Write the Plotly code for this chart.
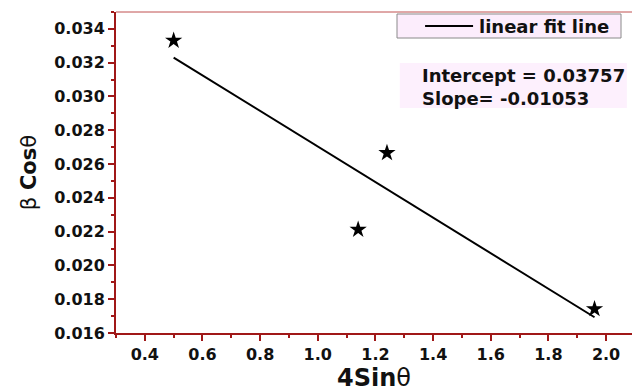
import plotly.graph_objects as go

# Data
x_pts = [0.50, 1.14, 1.24, 1.96]
y_pts = [0.03331, 0.02212, 0.02666, 0.01742]
intercept = 0.03757
slope = -0.01053
fit_x = [0.50, 1.96]
fit_y = [intercept + slope * v for v in fit_x]

x_ticks = [0.4, 0.6, 0.8, 1.0, 1.2, 1.4, 1.6, 1.8, 2.0]
y_ticks = [0.016, 0.018, 0.020, 0.022, 0.024, 0.026, 0.028, 0.030, 0.032, 0.034]

AX = "#a01818"
FONT = "DejaVu Sans, Arial, sans-serif"
TXT = "#111"

fig = go.Figure()
fig.add_trace(go.Scatter(
    x=fit_x, y=fit_y, mode="lines", name="linear fit line", showlegend=False,
    line=dict(color="black", width=2),
))
fig.add_trace(go.Scatter(
    x=x_pts, y=y_pts, mode="markers", showlegend=False,
    marker=dict(symbol="star", size=13, color="black", line=dict(width=0)),
))

fig.update_layout(
    width=632, height=392,
    margin=dict(l=116, r=0, t=12, b=59),
    plot_bgcolor="white", paper_bgcolor="white",
    font=dict(family=FONT, color=TXT),
    xaxis=dict(
        range=[0.3, 2.09], tickmode="array", tickvals=x_ticks,
        ticktext=[f"<b>{v:.1f}</b>" for v in x_ticks],
        ticks="outside", ticklen=6, tickwidth=2, tickcolor=AX,
        minor=dict(ticks="outside", dtick=0.1, tick0=0.3, ticklen=3, tickwidth=2, tickcolor=AX),
        showline=True, linecolor=AX, linewidth=2, showgrid=False, zeroline=False,
        tickfont=dict(size=16, family=FONT, color=TXT),
        title=dict(text="<b>4Sin</b>θ", font=dict(size=24, family=FONT, color=TXT), standoff=10),
    ),
    yaxis=dict(
        range=[0.016, 0.035], tickmode="array", tickvals=y_ticks,
        ticktext=[f"<b>{v:.3f}</b>" for v in y_ticks],
        ticks="outside", ticklen=6, tickwidth=2, tickcolor=AX,
        minor=dict(ticks="outside", dtick=0.001, tick0=0.016, ticklen=3, tickwidth=2, tickcolor=AX),
        showline=True, linecolor=AX, linewidth=2, showgrid=False, zeroline=False,
        tickfont=dict(size=16, family=FONT, color=TXT),
        title=dict(text="β <b>Cos</b>θ", font=dict(size=21, family=FONT, color=TXT), standoff=12),
    ),
    shapes=[
        dict(type="line", xref="paper", yref="paper", x0=0, x1=1, y0=1, y1=1,
             line=dict(color="#c05050", width=1)),
        # legend box
        dict(type="rect", xref="paper", yref="paper", x0=0.5446, x1=0.9787, y0=0.919, y1=0.9938,
             fillcolor="#fcedfc", line=dict(color="#8a8a8a", width=1), layer="above"),
        dict(type="line", xref="paper", yref="paper", x0=0.599, x1=0.692, y0=0.956, y1=0.956,
             line=dict(color="black", width=2), layer="above"),
        # fit-parameter box
        dict(type="rect", xref="paper", yref="paper", x0=0.550, x1=0.990, y0=0.701, y1=0.841,
             fillcolor="#fdf0fd", line=dict(width=0), layer="above"),
    ],
    annotations=[
        dict(xref="paper", yref="paper", x=0.6996, y=0.956, xanchor="left", yanchor="middle",
             text="<b>linear fit line</b>", showarrow=False,
             font=dict(size=18, family=FONT, color=TXT)),
        dict(xref="paper", yref="paper", x=0.589, y=0.765, xanchor="left", yanchor="middle",
             text="<b>Intercept = 0.03757<br>Slope= -0.01053</b>", align="left",
             showarrow=False, font=dict(size=18, family=FONT, color=TXT)),
    ],
)

fig.write_html("out.html")
